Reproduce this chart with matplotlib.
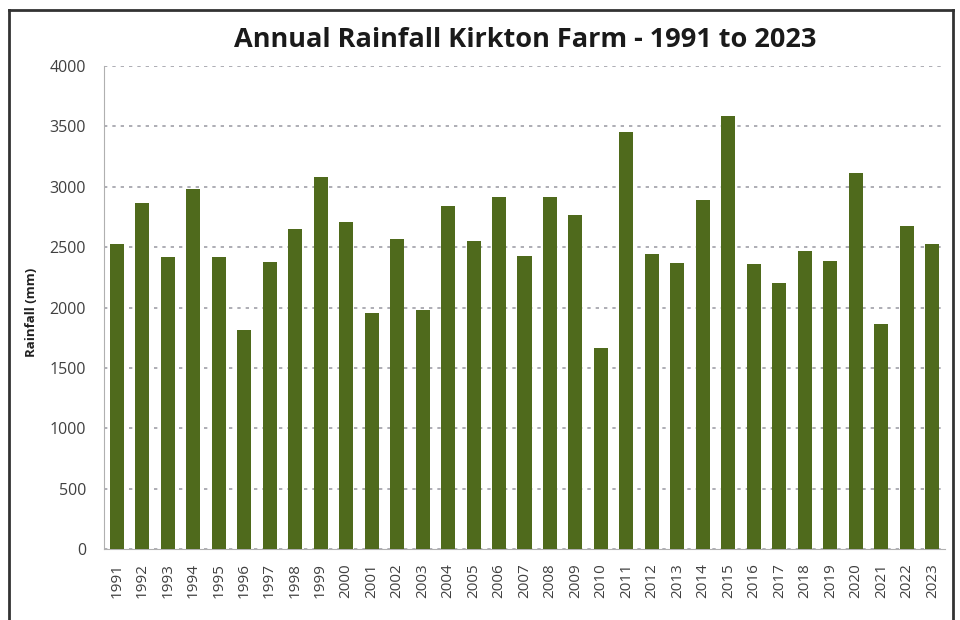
import matplotlib
matplotlib.use("Agg")
from matplotlib import pyplot
from matplotlib.lines import Line2D
import numpy

years = list(range(1991, 2024))
rainfall = [2530, 2867, 2419, 2981, 2419, 1810, 2377, 2646, 3078, 2704,
            1954, 2566, 1982, 2842, 2549, 2912, 2425, 2912, 2765, 1666,
            3452, 2447, 2372, 2890, 3587, 2364, 2206, 2466, 2383, 3116,
            1860, 2676, 2530]
y_ticks = [0, 500, 1000, 1500, 2000, 2500, 3000, 3500, 4000]

pyplot.rcParams['font.family'] = ['Open Sans', 'DejaVu Sans']

fig = pyplot.figure(figsize=(9.6, 6.2), dpi=100)
ax = fig.add_axes([104 / 960, 1 - 549 / 620, 841 / 960, 483 / 620])

x = numpy.arange(len(years))
ax.bar(x, rainfall, width=0.55, color='#4F6A1C', zorder=3)
ax.set_xlim(-0.5, len(years) - 0.5)
ax.set_ylim(0, 4000)
ax.set_yticks(y_ticks)
ax.set_yticklabels([str(v) for v in y_ticks], fontsize=11.5, color='#404040')
ax.set_xticks(x)
ax.set_xticklabels([str(y) for y in years], rotation=90, fontsize=11, color='#404040')
ax.tick_params(axis='y', length=0, pad=13)
ax.tick_params(axis='x', length=0, pad=10)
ax.yaxis.grid(True, linestyle=(0, (2, 3)), color='#a0a0a8', linewidth=1.2, zorder=0)

for side in ['top', 'right']:
    ax.spines[side].set_visible(False)
ax.spines['left'].set_color('#b0b0b0')
ax.spines['bottom'].set_color('#b0b0b0')

ax.set_ylabel('Rainfall (mm)', fontsize=9.5, fontweight='bold', color='#202020')
ax.yaxis.set_label_coords(-(104 - 38) / 841, 0.49)
fig.text(525 / 960, 1 - 40 / 620, 'Annual Rainfall Kirkton Farm - 1991 to 2023',
         ha='center', va='center', fontsize=19.5, fontweight='bold', color='#1a1a1a')

# frame around the picture (no bottom edge)
frame = dict(color='#333333', linewidth=2, transform=fig.transFigure)
fig.add_artist(Line2D([9 / 960, 9 / 960], [0, 1 - 10 / 620], **frame))
fig.add_artist(Line2D([9 / 960, 953 / 960], [1 - 10 / 620, 1 - 10 / 620], **frame))
fig.add_artist(Line2D([953 / 960, 953 / 960], [0, 1 - 10 / 620], **frame))

pyplot.savefig('out.png', dpi=100)
